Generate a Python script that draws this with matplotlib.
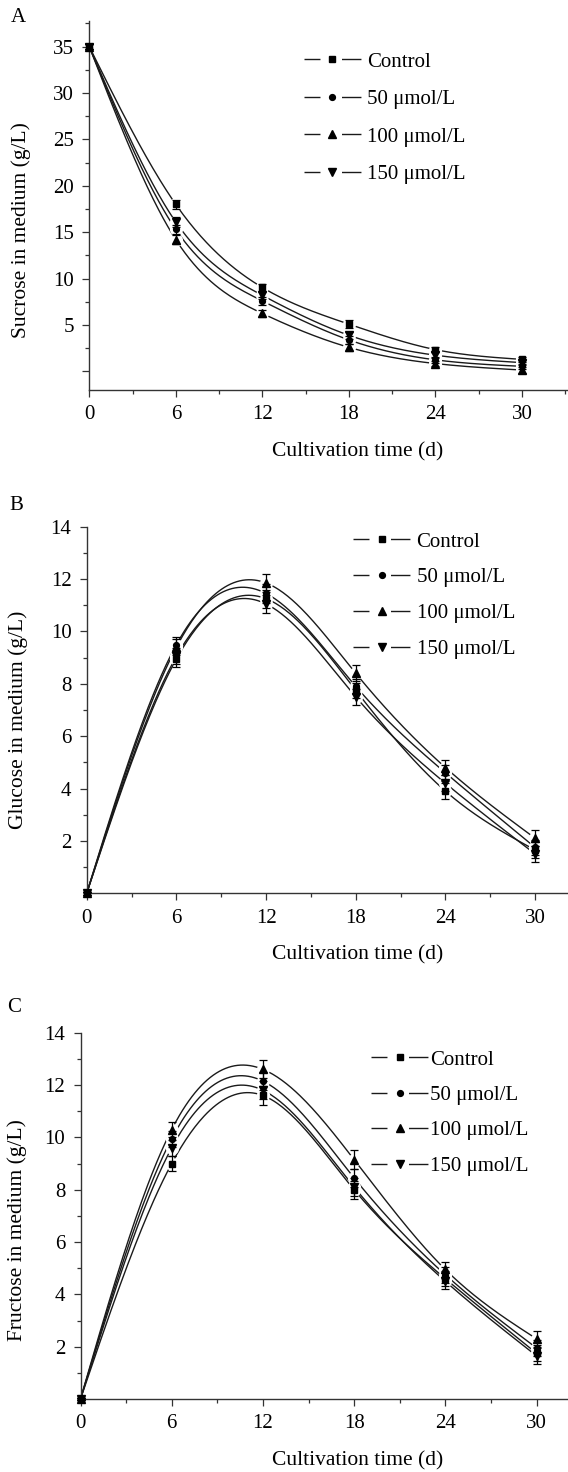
import numpy as np
import matplotlib
matplotlib.use('Agg')
import matplotlib.pyplot as plt
from matplotlib.lines import Line2D
from matplotlib.ticker import MultipleLocator, FixedLocator, FuncFormatter

plt.rcParams['font.family'] = ['Liberation Serif', 'DejaVu Serif']

# data
days = [0, 6, 12, 18, 24, 30]
labels = ['Control', '50 μmol/L', '100 μmol/L', '150 μmol/L']
markers = ['s', 'o', '^', 'v']
msizes = [3.8, 4.2, 6.0, 6.0]

sucrose_ctrl = [35, 18.0, 9.05, 5.1, 2.35, 1.3]
sucrose_50 = [35, 15.3, 7.6, 3.4, 1.25, 0.55]
sucrose_100 = [35, 14.2, 6.25, 2.6, 0.85, 0.15]
sucrose_150 = [35, 16.1, 8.2, 3.9, 1.75, 0.95]
sucrose_err = [0.3, 0.5, 0.4, 0.4, 0.3, 0.3]

glucose_ctrl = [0, 8.95, 11.25, 7.75, 3.9, 1.65]
glucose_50 = [0, 9.5, 11.45, 7.9, 4.6, 1.75]
glucose_100 = [0, 9.4, 11.85, 8.4, 4.8, 2.1]
glucose_150 = [0, 9.05, 11.05, 7.5, 4.2, 1.5]
glucose_err = [0.05, 0.3, 0.35, 0.3, 0.3, 0.3]

fructose_ctrl = [0, 9.0, 11.6, 8.0, 4.6, 1.75]
fructose_50 = [0, 9.95, 12.15, 8.45, 4.75, 1.95]
fructose_100 = [0, 10.3, 12.6, 9.15, 4.95, 2.3]
fructose_150 = [0, 9.6, 11.8, 8.1, 4.5, 1.65]
fructose_err = [0.05, 0.3, 0.35, 0.35, 0.3, 0.3]

W, H = 568, 1472
fig = plt.figure(figsize=(W / 100, H / 100), dpi=100)


def spline(x, y, n=300):
    # natural cubic spline, like Origin's "spline" line connection
    x = np.asarray(x, float)
    y = np.asarray(y, float)
    h = np.diff(x)
    m = len(x)
    A = np.zeros((m, m))
    r = np.zeros(m)
    A[0, 0] = A[-1, -1] = 1
    for i in range(1, m - 1):
        A[i, i - 1] = h[i - 1]
        A[i, i] = 2 * (h[i - 1] + h[i])
        A[i, i + 1] = h[i]
        r[i] = 3 * ((y[i + 1] - y[i]) / h[i] - (y[i] - y[i - 1]) / h[i - 1])
    c = np.linalg.solve(A, r)
    b = (y[1:] - y[:-1]) / h - h * (2 * c[:-1] + c[1:]) / 3
    d = (c[1:] - c[:-1]) / (3 * h)
    xs = np.linspace(x[0], x[-1], n)
    idx = np.clip(np.searchsorted(x, xs) - 1, 0, m - 2)
    dx = xs - x[idx]
    return xs, y[idx] + b[idx] * dx + c[idx] * dx ** 2 + d[idx] * dx ** 3


def make_axes(left, top, right, bottom):
    return fig.add_axes([left / W, 1 - bottom / H, (right - left) / W, (bottom - top) / H])


def draw_panel(ax, series, err, xlim, ylim, yticks, yminor, ylabel, letter,
               letter_xy, ylab_xy, xlab_xy, leg_xy, leg_space, leg_pad):
    for ys in series:
        xs, yy = spline(days, ys)
        ax.plot(xs, yy, color='#1a1a1a', lw=1.0, zorder=2, clip_on=False)
    # white gaps of the line around the symbols
    for ys in series:
        ax.scatter(days[1:], ys[1:], s=90, c='white', marker='o', lw=0,
                   zorder=3, clip_on=False)
    for ys, mk, ms in zip(series, markers, msizes):
        ax.errorbar(days, ys, yerr=err, fmt=mk, ms=ms, color='k', ecolor='k',
                    elinewidth=0.9, capsize=2.6, capthick=0.9, zorder=4,
                    clip_on=False)
    ax.set_xlim(*xlim)
    ax.set_ylim(*ylim)
    ax.xaxis.set_major_locator(FixedLocator(days))
    ax.xaxis.set_minor_locator(MultipleLocator(3))
    ax.yaxis.set_major_locator(FixedLocator(yticks))
    ax.yaxis.set_major_formatter(FuncFormatter(lambda v, p: '' if v == 0 and ylim[0] < 0 else '%g' % v))
    ax.yaxis.set_minor_locator(MultipleLocator(yminor))
    for s in ['top', 'right']:
        ax.spines[s].set_visible(False)
    for s in ['left', 'bottom']:
        ax.spines[s].set_color('#333333')
        ax.spines[s].set_linewidth(1.0)
    ax.tick_params(which='major', direction='out', length=5, width=0.9,
                   color='#333333', labelsize=15, pad=6)
    ax.tick_params(which='minor', direction='out', length=3, width=0.9,
                   color='#333333')
    fig.text(letter_xy[0] / W, 1 - letter_xy[1] / H, letter, fontsize=15,
             ha='center', va='center')
    fig.text(ylab_xy[0] / W, 1 - ylab_xy[1] / H, ylabel, fontsize=15.5,
             rotation=90, ha='center', va='center')
    fig.text(xlab_xy[0] / W, 1 - xlab_xy[1] / H, 'Cultivation time (d)',
             fontsize=15.5, ha='center', va='center')
    handles = [Line2D([], [], color='#1a1a1a', lw=1.0, ls=(0, (11.5, 15.5, 14, 100)),
                      marker=mk, ms=ms, mfc='k', mec='k')
               for mk, ms in zip(markers, msizes)]
    ax.legend(handles, labels, loc='upper left', frameon=False,
              bbox_to_anchor=(leg_xy[0] / W, 1 - leg_xy[1] / H),
              bbox_transform=fig.transFigure, borderpad=0, borderaxespad=0,
              handlelength=2.75, handletextpad=leg_pad, labelspacing=leg_space,
              fontsize=15, numpoints=1)


axA = make_axes(89.3, 20.7, 567, 390)
draw_panel(axA, [sucrose_ctrl, sucrose_50, sucrose_100, sucrose_150], sucrose_err,
           (0, (567 - 89.3) / 14.42), (-2.0, 37.8), list(range(0, 36, 5)), 2.5,
           'Sucrose in medium (g/L)', 'A', (18, 17), (21.5, 230), (358, 452),
           (303.6, 52), 0.86, 0.3)

axB = make_axes(86.7, 526.7, 567, 893.3)
draw_panel(axB, [glucose_ctrl, glucose_50, glucose_100, glucose_150], glucose_err,
           (0, (567 - 86.7) / 14.95), (0, 14), list(range(2, 15, 2)), 1,
           'Glucose in medium (g/L)', 'B', (16, 505), (18, 720), (358, 955),
           (353, 532), 0.78, 0.3)

axC = make_axes(80.5, 1032.7, 567, 1399)
draw_panel(axC, [fructose_ctrl, fructose_50, fructose_100, fructose_150], fructose_err,
           (0, (567 - 80.5) / 15.2), (0, 14), list(range(2, 15, 2)), 1,
           'Fructose in medium (g/L)', 'C', (14.5, 1008), (17.5, 1230), (358, 1461),
           (371, 1050), 0.76, 0.1)

fig.savefig('out.png', dpi=100)
